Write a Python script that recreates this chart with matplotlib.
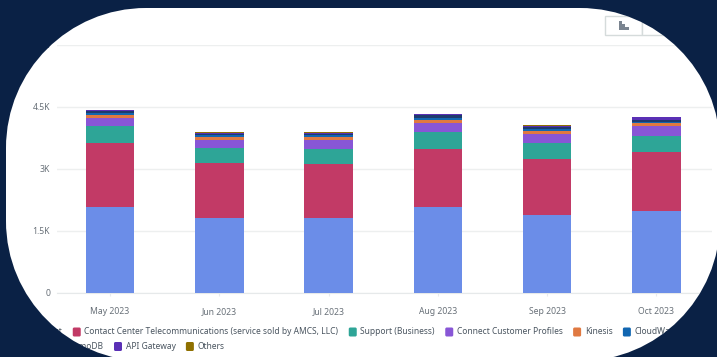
import matplotlib
matplotlib.use("Agg")
import matplotlib.pyplot as plt
import numpy as np
from matplotlib.patches import PathPatch, FancyBboxPatch, Rectangle
from matplotlib.path import Path

plt.rcParams['font.family'] = ['Noto Sans', 'DejaVu Sans']

months = ["May 2023", "Jun 2023", "Jul 2023", "Aug 2023", "Sep 2023", "Oct 2023"]
y_ticks = [0, 1500, 3000, 4500, 6000]
y_labels = ["0", "1.5K", "3K", "4.5K", "6K"]

services = ["Connect", "Contact Center Telecommunications (service sold by AMCS, LLC)",
            "Support (Business)", "Connect Customer Profiles", "Kinesis", "CloudWatch",
            "DynamoDB", "API Gateway", "Others"]
colors = ["#6B8DE8", "#C23A66", "#2EA597", "#8856D6", "#E07941", "#1166B1",
          "#1E3A6E", "#5A30B5", "#8F7000"]

connect = [2080, 1815, 1815, 2080, 1890, 1985]
telecom = [1550, 1320, 1305, 1405, 1355, 1425]
support = [410, 375, 365, 405, 385, 390]
profiles = [195, 190, 215, 225, 220, 240]
kinesis = [75, 70, 70, 70, 65, 70]
cloudwatch = [45, 50, 50, 60, 55, 25]
dynamodb = [42, 37, 37, 52, 50, 52]
api_gateway = [25, 25, 25, 30, 30, 65]
others = [8, 8, 8, 8, 10, 8]
stack = [connect, telecom, support, profiles, kinesis, cloudwatch, dynamodb, api_gateway, others]

W, H = 717, 357
NAVY = "#0A2145"
TEXT = "#687078"


def rounded_rect(x0, y0, x1, y1, r):
    # rounded box with true circular corners (bezier approximation)
    k = r * (1 - 0.5523)
    verts = [(x0 + r, y0), (x1 - r, y0),
             (x1 - k, y0), (x1, y0 + k), (x1, y0 + r),
             (x1, y1 - r),
             (x1, y1 - k), (x1 - k, y1), (x1 - r, y1),
             (x0 + r, y1),
             (x0 + k, y1), (x0, y1 - k), (x0, y1 - r),
             (x0, y0 + r),
             (x0, y0 + k), (x0 + k, y0), (x0 + r, y0)]
    codes = [Path.MOVETO, Path.LINETO,
             Path.CURVE4, Path.CURVE4, Path.CURVE4,
             Path.LINETO,
             Path.CURVE4, Path.CURVE4, Path.CURVE4,
             Path.LINETO,
             Path.CURVE4, Path.CURVE4, Path.CURVE4,
             Path.LINETO,
             Path.CURVE4, Path.CURVE4, Path.CURVE4]
    return Path(verts, codes)


fig = plt.figure(figsize=(W / 100, H / 100), dpi=100, facecolor="white")

# pixel-space layer: view toggle and legend
bg = fig.add_axes([0, 0, 1, 1], zorder=0)
bg.set_xlim(0, W)
bg.set_ylim(H, 0)
bg.axis("off")

# chart toggle buttons
for bx, bw in [(605, 37), (642, 37)]:
    bg.add_patch(Rectangle((bx, 16), bw, 18.5, facecolor="white", edgecolor="#D5DBDB", lw=1))
bg.fill([619, 622, 622, 625, 625, 629, 629, 619], [21, 21, 24, 24, 27, 27, 30, 30], color="#7A8490", lw=0)

# main chart
left, right, top, bottom = 57, 712, 45, 293
ax = fig.add_axes([left / W, 1 - bottom / H, (right - left) / W, (bottom - top) / H], zorder=1)
ax.patch.set_alpha(0)
ax.set_xlim(-0.485, 5.51)
ax.set_ylim(0, 6000)

x = np.arange(len(months))
base = np.zeros(len(months))
for values, color in zip(stack, colors):
    ax.bar(x, values, width=0.444, bottom=base, color=color, linewidth=0, zorder=3)
    base += np.array(values)

ax.set_yticks(y_ticks)
ax.set_yticklabels(y_labels)
ax.set_xticks(x)
ax.set_xticklabels(months)
ax.tick_params(axis="y", length=0, labelsize=6.2, labelcolor=TEXT, pad=5)
ax.tick_params(axis="x", length=2, width=0.8, color="#E9EBED", labelsize=6.2, labelcolor=TEXT, pad=8)
ax.grid(axis="y", color="#EDEFEF", lw=1, zorder=0)
ax.set_axisbelow(True)
for name in ["top", "right", "left"]:
    ax.spines[name].set_visible(False)
ax.spines["bottom"].set_color("#E6E9EA")

# legend flows in two rows, items placed one after another
fig.canvas.draw()
renderer = fig.canvas.get_renderer()
rows = [(18, 332, range(0, 6)), (47, 346.5, range(6, 9))]
for start, y, items in rows:
    cur = start
    for i in items:
        bg.add_patch(FancyBboxPatch((cur + 1, y - 3.5), 6, 7, boxstyle="round,pad=1,rounding_size=1.5",
                                    facecolor=colors[i], edgecolor="none"))
        t = bg.text(cur + 11.5, y, services[i], fontsize=6.08, color="#4A5560", va="center", ha="left")
        cur += 11.5 + t.get_window_extent(renderer).width + 10.5

# navy surround with the rounded card cut out, drawn over everything
mask = fig.add_axes([0, 0, 1, 1], zorder=2)
mask.set_xlim(0, W)
mask.set_ylim(H, 0)
mask.axis("off")
card = rounded_rect(6, 8, 720, 361, 140)
outer = Path([(-5, -5), (-5, H + 5), (W + 5, H + 5), (W + 5, -5), (-5, -5)],
             [Path.MOVETO, Path.LINETO, Path.LINETO, Path.LINETO, Path.CLOSEPOLY])
mask.add_patch(PathPatch(Path.make_compound_path(outer, card), facecolor=NAVY, edgecolor="none"))

fig.savefig("out.png", dpi=100)
